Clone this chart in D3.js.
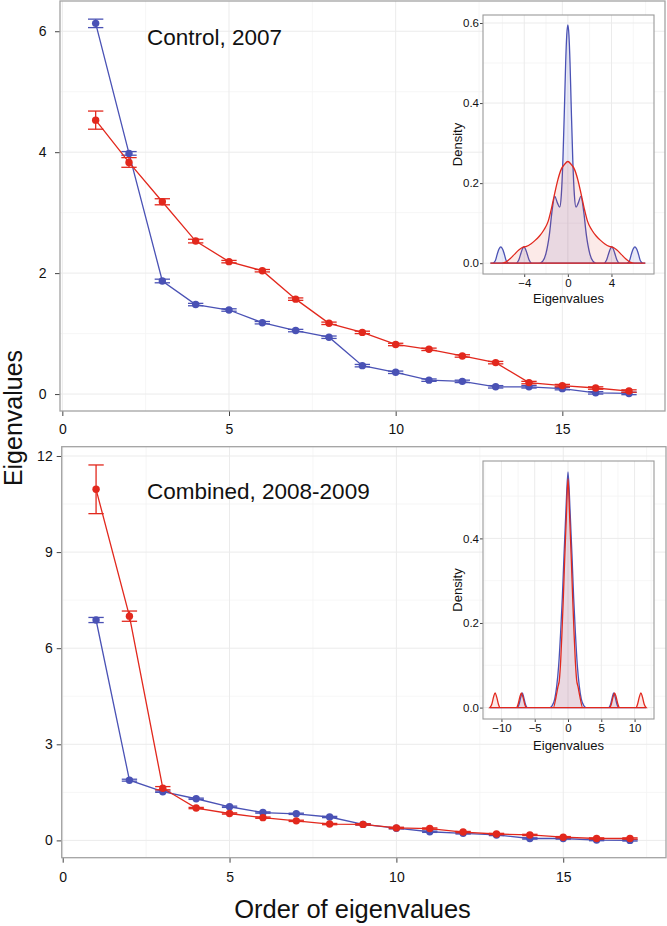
<!DOCTYPE html>
<html><head><meta charset="utf-8">
<script src="https://cdn.jsdelivr.net/npm/d3@7"></script>
<style>body{margin:0;background:#fff} svg{display:block;font-family:"Liberation Sans",Arial,Helvetica,sans-serif}</style>
</head><body><svg id="c" width="667" height="926"></svg>
<script>
// ---------- DATA ----------
const order = [1,2,3,4,5,6,7,8,9,10,11,12,13,14,15,16,17];

const ctrlBlue    = [6.13,3.98,1.87,1.48,1.39,1.18,1.05,0.94,0.47,0.36,0.23,0.21,0.12,0.12,0.09,0.02,0.01];
const ctrlBlueErr = [0.07,0.03,0.03,0.02,0.02,0.02,0.02,0.02,0.02,0.02,0.02,0.02,0.02,0.02,0.02,0.02,0.02];
const ctrlRed     = [4.53,3.83,3.18,2.53,2.19,2.04,1.57,1.17,1.02,0.82,0.74,0.63,0.52,0.19,0.14,0.10,0.05];
const ctrlRedErr  = [0.15,0.08,0.05,0.03,0.02,0.02,0.02,0.02,0.02,0.02,0.02,0.02,0.02,0.02,0.02,0.02,0.02];

const combBlue    = [6.88,1.88,1.52,1.30,1.05,0.87,0.83,0.73,0.50,0.38,0.27,0.22,0.17,0.06,0.06,0.01,0.00];
const combBlueErr = [0.08,0.03,0.02,0.02,0.02,0.02,0.02,0.02,0.02,0.02,0.02,0.02,0.02,0.02,0.02,0.02,0.02];
const combRed     = [10.96,7.00,1.63,1.01,0.84,0.71,0.61,0.51,0.50,0.39,0.37,0.26,0.20,0.17,0.10,0.06,0.06];
const combRedErr  = [0.76,0.16,0.05,0.02,0.02,0.02,0.02,0.02,0.02,0.02,0.02,0.02,0.02,0.02,0.02,0.02,0.02];

const mainXTicks = [0,5,10,15];
const mainXMinor = [2.5,7.5,12.5,17.5];
const ctrlYTicks = [0,2,4,6];
const ctrlYMinor = [1,3,5];
const combYTicks = [0,3,6,9,12];
const combYMinor = [1.5,4.5,7.5,10.5];

// inset densities
const ctrlBlueDensX = [-7.1,-6.9,-6.65,-6.45,-6.3,-6.15,-6.0,-5.85,-5.65,-5.4,-4.75,-4.5,-4.3,-4.16,-4.03,-3.9,-3.75,-3.55,-3.3,-2.6,-2.3,-2.0,-1.7,-1.45,-1.2,-0.95,-0.75,-0.6,-0.45,-0.3,-0.2,-0.1,0,0.1,0.2,0.3,0.45,0.6,0.75,0.95,1.2,1.45,1.7,2.0,2.3,2.6,3.3,3.55,3.75,3.9,4.03,4.16,4.3,4.5,4.75,5.4,5.65,5.85,6.0,6.15,6.3,6.45,6.65,6.9,7.1];
const ctrlBlueDensY = [0,0,0.006,0.025,0.036,0.041,0.036,0.025,0.006,0,0,0.008,0.025,0.036,0.041,0.036,0.025,0.008,0,0,0.005,0.025,0.07,0.13,0.167,0.15,0.14,0.17,0.26,0.40,0.50,0.57,0.595,0.57,0.50,0.40,0.26,0.17,0.14,0.15,0.167,0.13,0.07,0.025,0.005,0,0,0.008,0.025,0.036,0.041,0.036,0.025,0.008,0,0,0.006,0.025,0.036,0.041,0.036,0.025,0.006,0,0];
const ctrlRedDensX = [-7.1,-6.1,-5.7,-5.3,-4.9,-4.5,-4.1,-3.8,-3.4,-3.0,-2.6,-2.2,-1.8,-1.5,-1.2,-0.9,-0.6,-0.3,0,0.3,0.6,0.9,1.2,1.5,1.8,2.2,2.6,3.0,3.4,3.8,4.1,4.5,4.9,5.3,5.7,6.1,7.1];
const ctrlRedDensY = [0,0,0.003,0.011,0.022,0.033,0.04,0.042,0.048,0.057,0.068,0.083,0.105,0.137,0.175,0.21,0.235,0.247,0.254,0.247,0.235,0.21,0.175,0.137,0.105,0.083,0.068,0.057,0.048,0.042,0.04,0.033,0.022,0.011,0.003,0,0];

const combBlueDensX = [-11.75,-7.65,-7.35,-7.1,-6.87,-6.65,-6.4,-6.1,-2.7,-2.4,-2.0,-1.7,-1.4,-1.1,-0.85,-0.6,-0.3,0,0.3,0.6,0.85,1.1,1.4,1.7,2.0,2.4,2.7,6.1,6.4,6.65,6.87,7.1,7.35,7.65,11.75];
const combBlueDensY = [0,0,0.008,0.024,0.035,0.024,0.008,0,0,0.004,0.02,0.05,0.1,0.18,0.26,0.36,0.47,0.557,0.47,0.36,0.26,0.18,0.1,0.05,0.02,0.004,0,0,0.008,0.024,0.035,0.024,0.008,0,0];
const combRedDensX = [-11.75,-11.45,-11.2,-10.96,-10.7,-10.45,-10.2,-7.75,-7.5,-7.25,-7.0,-6.75,-6.5,-6.25,-2.2,-1.8,-1.5,-1.3,-1.1,-0.9,-0.7,-0.5,-0.25,0,0.25,0.5,0.7,0.9,1.1,1.3,1.5,1.8,2.2,6.25,6.5,6.75,7.0,7.25,7.5,7.75,10.2,10.45,10.7,10.96,11.2,11.45,11.75];
const combRedDensY = [0,0.008,0.024,0.035,0.024,0.008,0,0,0.008,0.024,0.035,0.024,0.008,0,0,0.025,0.05,0.065,0.11,0.18,0.26,0.35,0.45,0.541,0.45,0.35,0.26,0.18,0.11,0.065,0.05,0.025,0,0,0.008,0.024,0.035,0.024,0.008,0,0,0.008,0.024,0.035,0.024,0.008,0];

const ctrlInsetXTicks = [-4,0,4];
const ctrlInsetXMinor = [-6,-2,2,6];
const ctrlInsetYTicks = [0,0.2,0.4,0.6];
const ctrlInsetYMinor = [0.1,0.3,0.5];
const combInsetXTicks = [-10,-5,0,5,10];
const combInsetXMinor = [-12.5,-7.5,-2.5,2.5,7.5,12.5];
const combInsetYTicks = [0,0.2,0.4];
const combInsetYMinor = [0.1,0.3,0.5];

// ---------- DRAWING ----------
const BLUE = "#4a52b5", RED = "#e2281d";
const svg = d3.select("#c");

function grid(g, x, y, o, xt, xm, yt, ym) {
  ym.forEach(v => g.append("line").attr("x1", o.l).attr("x2", o.r).attr("y1", y(v)).attr("y2", y(v)).attr("stroke", "#f4f4f4").attr("stroke-width", 0.8));
  xm.forEach(v => { if (x(v) > o.l && x(v) < o.r) g.append("line").attr("y1", o.t).attr("y2", o.b).attr("x1", x(v)).attr("x2", x(v)).attr("stroke", "#f4f4f4").attr("stroke-width", 0.8); });
  yt.forEach(v => g.append("line").attr("x1", o.l).attr("x2", o.r).attr("y1", y(v)).attr("y2", y(v)).attr("stroke", "#ebebeb").attr("stroke-width", 1));
  xt.forEach(v => g.append("line").attr("y1", o.t).attr("y2", o.b).attr("x1", x(v)).attr("x2", x(v)).attr("stroke", "#ebebeb").attr("stroke-width", 1));
}

function styleAxis(sel, fs) {
  sel.select(".domain").remove();
  sel.selectAll(".tick line").attr("stroke", "#444");
  sel.selectAll(".tick text").attr("fill", "#111").style("font-size", fs + "px").style("font-family", '"Liberation Sans",Arial,sans-serif');
}

function drawMain(o) {
  const x = d3.scaleLinear().domain(o.xdom).range([o.l, o.r]);
  const y = d3.scaleLinear().domain(o.ydom).range([o.b, o.t]);
  const g = svg.append("g");
  g.append("rect").attr("x", o.l).attr("y", o.t).attr("width", o.r - o.l).attr("height", o.b - o.t).attr("fill", "#fff");
  grid(g, x, y, o, mainXTicks, mainXMinor, o.yTicks, o.yMinor);

  g.append("g").attr("transform", `translate(${o.l},0)`)
    .call(d3.axisLeft(y).tickValues(o.yTicks).tickSize(5).tickPadding(o.yPad).tickFormat(d3.format("d")))
    .call(s => styleAxis(s, 14));
  g.append("g").attr("transform", `translate(0,${o.b})`)
    .call(d3.axisBottom(x).tickValues(mainXTicks).tickSize(5).tickPadding(o.xPad).tickFormat(d3.format("d")))
    .call(s => styleAxis(s, 14));

  const series = [[o.blue, o.blueErr, BLUE], [o.red, o.redErr, RED]];
  series.forEach(([vals, errs, col]) => {
    const pts = order.map((k, i) => [k, vals[i], errs[i]]);
    g.append("path").datum(pts).attr("fill", "none").attr("stroke", col).attr("stroke-width", 1.3)
      .attr("d", d3.line().x(d => x(d[0])).y(d => y(d[1])));
    const eb = g.append("g").attr("stroke", col).attr("stroke-width", 1.3);
    pts.forEach(d => {
      eb.append("line").attr("x1", x(d[0])).attr("x2", x(d[0])).attr("y1", y(d[1] - d[2])).attr("y2", y(d[1] + d[2]));
      eb.append("line").attr("x1", x(d[0] - 0.23)).attr("x2", x(d[0] + 0.23)).attr("y1", y(d[1] - d[2])).attr("y2", y(d[1] - d[2]));
      eb.append("line").attr("x1", x(d[0] - 0.23)).attr("x2", x(d[0] + 0.23)).attr("y1", y(d[1] + d[2])).attr("y2", y(d[1] + d[2]));
    });
    g.append("g").selectAll("circle").data(pts).join("circle")
      .attr("cx", d => x(d[0])).attr("cy", d => y(d[1])).attr("r", 3.7).attr("fill", col);
  });

  g.append("text").attr("x", o.titleX).attr("y", o.titleY).style("font-size", "22.5px").attr("fill", "#111").text(o.title);
  g.append("rect").attr("x", o.l).attr("y", o.t).attr("width", o.r - o.l).attr("height", o.b - o.t)
    .attr("fill", "none").attr("stroke", "#a3a3a3").attr("stroke-width", 1.3);
}

function drawInset(o) {
  const x = d3.scaleLinear().domain(o.xdom).range([o.l, o.r]);
  const y = d3.scaleLinear().domain(o.ydom).range([o.b, o.t]);
  const g = svg.append("g");
  g.append("rect").attr("x", o.l).attr("y", o.t).attr("width", o.r - o.l).attr("height", o.b - o.t).attr("fill", "#fff");
  grid(g, x, y, o, o.xTicks, o.xMinor, o.yTicks, o.yMinor);

  g.append("g").attr("transform", `translate(${o.l},0)`)
    .call(d3.axisLeft(y).tickValues(o.yTicks).tickSize(3).tickPadding(1).tickFormat(d3.format(".1f")))
    .call(s => styleAxis(s, 11.5));
  g.append("g").attr("transform", `translate(0,${o.b})`)
    .call(d3.axisBottom(x).tickValues(o.xTicks).tickSize(3).tickPadding(2).tickFormat(d3.format("d")))
    .call(s => styleAxis(s, 11.5));

  const curves = [[o.bx, o.by, BLUE, "rgba(80,90,195,0.12)"], [o.rx, o.ry, RED, "rgba(225,60,50,0.11)"]];
  curves.forEach(([xs, ys, col, fill]) => {
    const pts = xs.map((v, i) => [v, ys[i]]);
    g.append("path").datum(pts).attr("fill", fill).attr("stroke", col).attr("stroke-width", 1.3)
      .attr("d", d3.area().x(d => x(d[0])).y0(y(0)).y1(d => y(d[1])).curve(d3.curveMonotoneX));
  });

  g.append("rect").attr("x", o.l).attr("y", o.t).attr("width", o.r - o.l).attr("height", o.b - o.t)
    .attr("fill", "none").attr("stroke", "#9a9a9a").attr("stroke-width", 1.1);
  g.append("text").attr("x", (o.l + o.r) / 2).attr("y", o.xLabY).attr("text-anchor", "middle")
    .style("font-size", "13px").attr("fill", "#111").text("Eigenvalues");
  g.append("text").attr("transform", `translate(${o.yLabX},${(o.t + o.b) / 2}) rotate(-90)`).attr("text-anchor", "middle")
    .style("font-size", "13px").attr("fill", "#111").text("Density");
}

drawMain({l: 60, r: 665, t: 1, b: 411, xdom: [-0.07, 18.08], ydom: [-0.28, 6.50],
  yTicks: ctrlYTicks, yMinor: ctrlYMinor, yPad: 8.5, xPad: 8,
  blue: ctrlBlue, blueErr: ctrlBlueErr, red: ctrlRed, redErr: ctrlRedErr,
  title: "Control, 2007", titleX: 147, titleY: 45});
drawInset({l: 483, r: 654, t: 15, b: 274, xdom: [-7.78, 7.9], ydom: [-0.027, 0.62],
  xTicks: ctrlInsetXTicks, xMinor: ctrlInsetXMinor, yTicks: ctrlInsetYTicks, yMinor: ctrlInsetYMinor,
  bx: ctrlBlueDensX, by: ctrlBlueDensY, rx: ctrlRedDensX, ry: ctrlRedDensY, xLabY: 303, yLabX: 461.5});

drawMain({l: 61.7, r: 666, t: 446.7, b: 857.7, xdom: [-0.03, 18.08], ydom: [-0.54, 12.29],
  yTicks: combYTicks, yMinor: combYMinor, yPad: 4, xPad: 9,
  blue: combBlue, blueErr: combBlueErr, red: combRed, redErr: combRedErr,
  title: "Combined, 2008-2009", titleX: 147, titleY: 499});
drawInset({l: 483, r: 654, t: 461, b: 719, xdom: [-12.77, 12.92], ydom: [-0.027, 0.583],
  xTicks: combInsetXTicks, xMinor: combInsetXMinor, yTicks: combInsetYTicks, yMinor: combInsetYMinor,
  bx: combBlueDensX, by: combBlueDensY, rx: combRedDensX, ry: combRedDensY, xLabY: 750, yLabX: 461.5});

svg.append("text").attr("transform", "translate(22,418) rotate(-90)").attr("text-anchor", "middle")
  .style("font-size", "25px").attr("fill", "#111").text("Eigenvalues");
svg.append("text").attr("x", 352.5).attr("y", 918).attr("text-anchor", "middle")
  .style("font-size", "25.5px").attr("fill", "#111").text("Order of eigenvalues");
</script>
</body></html>
